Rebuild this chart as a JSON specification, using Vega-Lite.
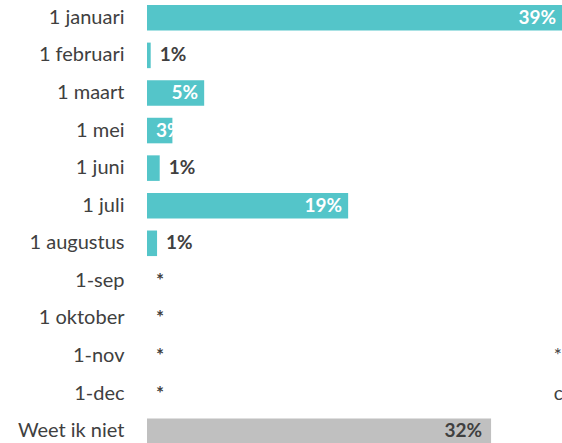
{
  "$schema": "https://vega.github.io/schema/vega-lite/v6.json",
  "autosize": {"type": "none"},
  "padding": {"left": 147, "top": 0, "right": 0, "bottom": 0},
  "width": 415,
  "height": 443,
  "background": "white",
  "config": {"view": {"stroke": null}, "font": "Lato"},
  "data": {
    "values": [
      {"cat": "1 januari", "value": 39.2, "label": "39%", "kind": "teal"},
      {"cat": "1 februari", "value": 0.35, "label": "1%", "kind": "teal"},
      {"cat": "1 maart", "value": 5.4, "label": "5%", "kind": "teal"},
      {"cat": "1 mei", "value": 2.4, "label": "3%", "kind": "teal"},
      {"cat": "1 juni", "value": 1.2, "label": "1%", "kind": "teal"},
      {"cat": "1 juli", "value": 19.0, "label": "19%", "kind": "teal"},
      {"cat": "1 augustus", "value": 0.95, "label": "1%", "kind": "teal"},
      {"cat": "1-sep", "value": 0, "label": "*", "kind": "teal"},
      {"cat": "1 oktober", "value": 0, "label": "*", "kind": "teal"},
      {"cat": "1-nov", "value": 0, "label": "*", "kind": "teal"},
      {"cat": "1-dec", "value": 0, "label": "*", "kind": "teal"},
      {"cat": "Weet ik niet", "value": 32.5, "label": "32%", "kind": "gray"}
    ]
  },
  "encoding": {
    "y": {
      "field": "cat", "type": "nominal",
      "scale": {
        "domain": ["1 januari", "1 februari", "1 maart", "1 mei", "1 juni", "1 juli", "1 augustus", "1-sep", "1 oktober", "1-nov", "1-dec", "Weet ik niet"],
        "range": [-1, 450], "paddingInner": 0.32, "paddingOuter": 0.16
      },
      "axis": {"title": null, "domain": false, "ticks": false, "labelPadding": 23, "labelFontSize": 20, "labelFont": "Lato", "labelColor": "#404040"}
    }
  },
  "layer": [
    {
      "mark": {"type": "bar"},
      "encoding": {
        "x": {"field": "value", "type": "quantitative", "scale": {"domain": [0, 39.2], "nice": false, "zero": true}, "axis": null},
        "color": {"field": "kind", "type": "nominal", "scale": {"domain": ["teal", "gray"], "range": ["#54C5C9", "#C0C0C0"]}, "legend": null}
      }
    },
    {
      "transform": [{"filter": "indexof(['1 februari','1 juni','1 augustus','1-sep','1 oktober','1-nov','1-dec'], datum.cat) >= 0"}],
      "mark": {"type": "text", "align": "left", "baseline": "middle", "dx": 9, "fontSize": 19, "fontWeight": "bold", "color": "#404040"},
      "encoding": {
        "x": {"field": "value", "type": "quantitative"},
        "text": {"field": "label"}
      }
    },
    {
      "transform": [{"filter": "indexof(['1 januari','1 maart','1 juli'], datum.cat) >= 0"}],
      "mark": {"type": "text", "align": "right", "baseline": "middle", "dx": -6, "fontSize": 19, "fontWeight": "bold", "color": "white"},
      "encoding": {
        "x": {"field": "value", "type": "quantitative"},
        "text": {"field": "label"}
      }
    },
    {
      "transform": [{"filter": "datum.cat == '1 mei'"}],
      "mark": {"type": "text", "align": "left", "baseline": "middle", "dx": 9, "fontSize": 19, "fontWeight": "bold", "color": "white"},
      "encoding": {
        "x": {"datum": 0, "type": "quantitative"},
        "text": {"field": "label"}
      }
    },
    {
      "transform": [{"filter": "datum.cat == 'Weet ik niet'"}],
      "mark": {"type": "text", "align": "right", "baseline": "middle", "dx": -9, "fontSize": 19, "fontWeight": "bold", "color": "#404040"},
      "encoding": {
        "x": {"field": "value", "type": "quantitative"},
        "text": {"field": "label"}
      }
    },
    {
      "data": {"values": [{"note": "*", "row": "1-nov"}, {"note": "c", "row": "1-dec"}]},
      "mark": {"type": "text", "align": "left", "baseline": "middle", "fontSize": 19, "color": "#404040"},
      "encoding": {
        "x": {"datum": 38.42, "type": "quantitative"},
        "y": {"field": "row", "type": "nominal"},
        "text": {"field": "note"}
      }
    }
  ]
}
